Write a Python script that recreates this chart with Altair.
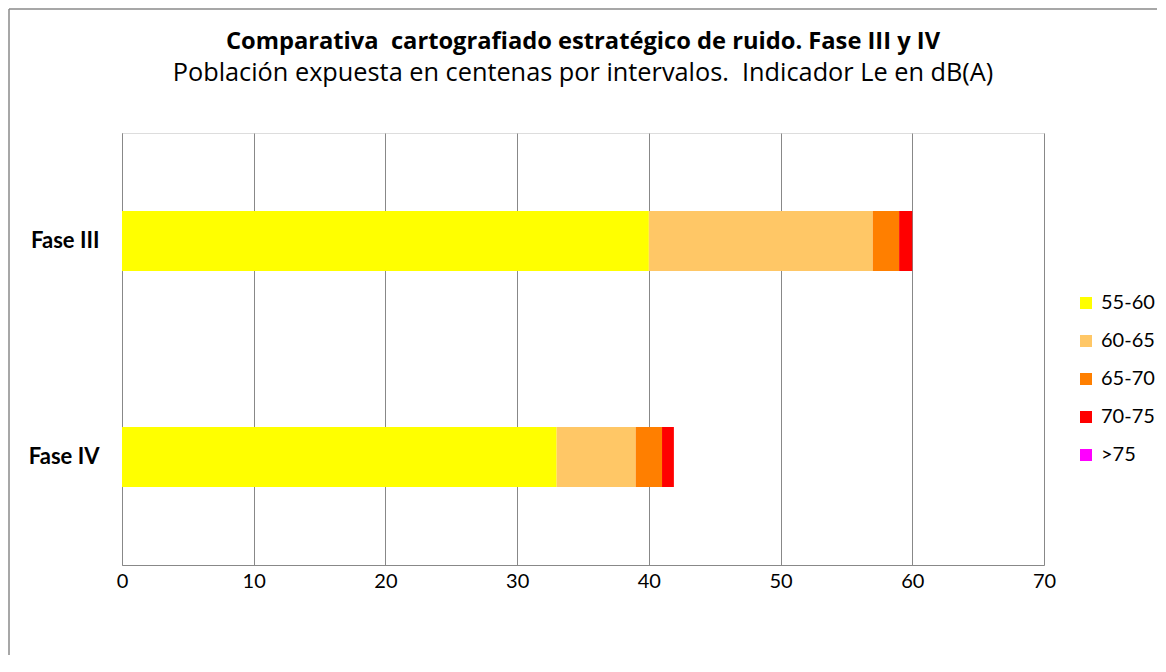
import altair as alt
import pandas as pd

fases = ["Fase III", "Fase IV"]
intervalos = ["55-60", "60-65", "65-70", "70-75", ">75"]
colores = ["#FFFF00", "#FFC766", "#FF7F00", "#FF0000", "#FF00FF"]
v_55_60 = [40.0, 33.0]
v_60_65 = [17.0, 6.0]
v_65_70 = [2.0, 2.0]
v_70_75 = [1.0, 0.9]
v_75 = [0.0, 0.0]

titulo = "Comparativa \u00a0cartografiado estratégico de ruido. Fase III y IV"
subtitulo = "Población expuesta en centenas por intervalos. \u00a0Indicador Le en dB(A)"

series = [v_55_60, v_60_65, v_65_70, v_70_75, v_75]
rows = []
for k, (name, vals) in enumerate(zip(intervalos, series)):
    for f, v in zip(fases, vals):
        rows.append({"fase": f, "intervalo": name, "valor": v, "orden": k})
df = pd.DataFrame(rows)

FONT = "Lato"
TFONT = "Open Sans"

bars = alt.Chart(df).mark_bar().encode(
    y=alt.Y("fase:N", sort=fases, title=None,
            scale=alt.Scale(paddingInner=0.722, paddingOuter=0.361),
            axis=alt.Axis(labelFont=FONT, labelFontWeight="bold", labelFontSize=22,
                          labelColor="#000000", labelPadding=23, ticks=False,
                          domainColor="#888888", grid=False)),
    x=alt.X("valor:Q", stack="zero", title=None,
            scale=alt.Scale(domain=[0, 70], nice=False),
            axis=alt.Axis(values=[0, 10, 20, 30, 40, 50, 60, 70], labelFont=FONT,
                          labelFontSize=20, labelColor="#000000", labelPadding=6,
                          ticks=False, domainColor="#888888", gridColor="#888888",
                          gridOpacity=1, labelFlush=False)),
    color=alt.Color("intervalo:N", title=None,
                    scale=alt.Scale(domain=intervalos, range=colores),
                    legend=alt.Legend(orient="none", legendX=954, legendY=160,
                                      symbolType="square", symbolSize=144,
                                      symbolStrokeWidth=0, labelFont=FONT,
                                      labelFontSize=20, labelColor="#000000",
                                      rowPadding=18, labelOffset=5)),
    order=alt.Order("orden:Q", sort="ascending"),
)

border = alt.Chart(pd.DataFrame({"a": [0]})).mark_rule(color="#8a8a8a", strokeWidth=1.5).encode(
    x=alt.value(-113), x2=alt.value(-113), y=alt.value(-124), y2=alt.value(530)
)
border_top = alt.Chart(pd.DataFrame({"a": [0]})).mark_rule(color="#8a8a8a", strokeWidth=1.5).encode(
    x=alt.value(-113), x2=alt.value(1035), y=alt.value(-124), y2=alt.value(-124)
)

chart = alt.layer(bars, border, border_top).properties(
    width=922,
    height=432,
    title=alt.Title(
        titulo,
        subtitle=subtitulo,
        font=TFONT, fontSize=23.7, fontWeight="bold", color="#000000",
        subtitleFont=TFONT, subtitleFontSize=25.3, subtitleColor="#000000",
        subtitlePadding=7, anchor="middle", frame="group", offset=-78,
    ),
    autosize=alt.AutoSizeParams(type="none"),
    padding={"left": 114, "top": 125, "right": 113, "bottom": 90},
).configure_view(stroke=None).configure(background="#ffffff")

chart.save("out.html", embed_options={"renderer": "svg", "actions": False})
